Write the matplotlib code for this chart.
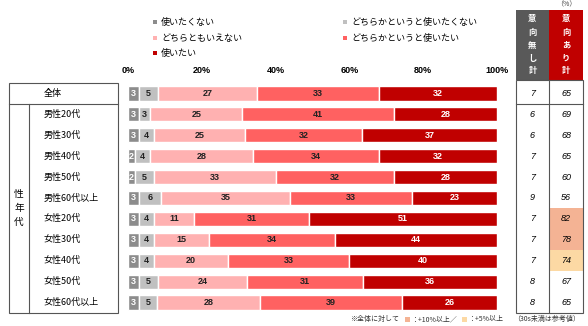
import numpy as np
import matplotlib
matplotlib.use("Agg")
import matplotlib.pyplot as plt
from matplotlib.patches import Rectangle

plt.rcParams['font.family'] = ['Noto Sans CJK JP', 'DejaVu Sans']

# data
categories = ["全体", "男性20代", "男性30代", "男性40代", "男性50代", "男性60代以上",
              "女性20代", "女性30代", "女性40代", "女性50代", "女性60代以上"]
series_names = ["使いたくない", "どちらかというと使いたくない", "どちらともいえない",
                "どちらかというと使いたい", "使いたい"]
not_want = [3, 3, 3, 2, 2, 3, 3, 3, 3, 3, 3]
rather_not = [5, 3, 4, 4, 5, 6, 4, 4, 4, 5, 5]
neutral = [27, 25, 25, 28, 33, 35, 11, 15, 20, 24, 28]
rather_want = [33, 41, 32, 34, 32, 33, 31, 34, 33, 31, 39]
want = [32, 28, 37, 32, 28, 23, 51, 44, 40, 36, 26]
no_total = [7, 6, 6, 7, 7, 9, 7, 7, 7, 8, 8]
yes_total = [65, 69, 68, 65, 60, 56, 82, 78, 74, 67, 65]
highlight = ["", "", "", "", "", "", "+10", "+10", "+5", "", ""]

colors = ["#8c8c8c", "#c0c0c0", "#ffb1b1", "#ff6161", "#c00000"]
text_colors = ["white", "#222222", "#222222", "#222222", "white"]
hl_colors = {"+10": "#f4b394", "+5": "#fcd9a4"}

W, H = 588, 326
fig = plt.figure(figsize=(W / 100, H / 100), dpi=100)

def px_rect(x0, y0, x1, y1):
    return [x0 / W, 1 - y1 / H, (x1 - x0) / W, (y1 - y0) / H]

# bar axes
ax = fig.add_axes(px_rect(128, 83, 497, 313))
data = np.array([not_want, rather_not, neutral, rather_want, want], dtype=float)
widths = data / data.sum(axis=0) * 100
y = np.arange(len(categories))
left = np.zeros(len(categories))
for k in range(5):
    ax.barh(y, widths[k], left=left, height=0.68, color=colors[k],
            edgecolor="white", linewidth=1.0)
    for i in range(len(categories)):
        ax.text(left[i] + widths[k][i] / 2, y[i], str(int(data[k][i])),
                ha="center", va="center", fontsize=6.5, fontweight="bold",
                color=text_colors[k], family=["Liberation Sans", "DejaVu Sans"])
    left += widths[k]
ax.set_xlim(0, 100)
ax.set_ylim(len(categories) - 0.5, -0.5)
ax.xaxis.tick_top()
ax.set_xticks([0, 20, 40, 60, 80, 100])
ax.set_xticklabels(["0%", "20%", "40%", "60%", "80%", "100%"], fontsize=6.5,
                   fontweight="bold", family=["Liberation Sans", "DejaVu Sans"])
ax.tick_params(length=0, pad=6)
ax.set_yticks([])
for s in ax.spines.values():
    s.set_visible(False)

# overlay in pixel coordinates for table and legend
ov = fig.add_axes([0, 0, 1, 1])
ov.set_xlim(0, W)
ov.set_ylim(H, 0)
ov.axis("off")
ov.set_zorder(-1)

row_h = (313 - 83) / len(categories)
row_c = [83 + row_h * (i + 0.5) for i in range(len(categories))]
lw = 0.8
lc = "#555555"

# left label table
ov.add_patch(Rectangle((9, 83), 109, 230, fill=False, edgecolor=lc, linewidth=lw))
ov.plot([9, 118], [83 + row_h, 83 + row_h], color=lc, lw=lw)
ov.plot([29, 29], [83 + row_h, 313], color=lc, lw=lw)
for i, c in enumerate(categories):
    ov.text(44, row_c[i], c, ha="left", va="center", fontsize=6.5)
for j, ch in enumerate("性年代"):
    ov.text(19, 194 + j * 14, ch, ha="center", va="center", fontsize=7)

# right table
ov.add_patch(Rectangle((516, 10), 33, 70, color="#595959", lw=0))
ov.add_patch(Rectangle((549, 10), 34, 70, color="#c00000", lw=0))
for j, ch in enumerate("意向無し計"):
    ov.text(532.5, 19 + j * 13, ch, ha="center", va="center", fontsize=6,
            color="white", fontweight="bold")
for j, ch in enumerate("意向あり計"):
    ov.text(566, 19 + j * 13, ch, ha="center", va="center", fontsize=6,
            color="white", fontweight="bold")
ov.text(566, 4, "（%）", ha="center", va="center", fontsize=5, color="#444444")
for i in range(len(categories)):
    top = 80 if i == 0 else row_c[i] - row_h / 2
    bot = row_c[i] + row_h / 2
    if highlight[i]:
        ov.add_patch(Rectangle((549, top), 34, bot - top,
                               color=hl_colors[highlight[i]], lw=0))
    ov.text(532.5, row_c[i], str(no_total[i]), ha="center", va="center",
            fontsize=6.5, style="italic", family=["Liberation Sans", "DejaVu Sans"])
    ov.text(566, row_c[i], str(yes_total[i]), ha="center", va="center",
            fontsize=6.5, style="italic", family=["Liberation Sans", "DejaVu Sans"])
ov.add_patch(Rectangle((516, 80), 67, 233, fill=False, edgecolor=lc, linewidth=lw))
ov.plot([549, 549], [80, 313], color=lc, lw=lw)
ov.plot([516, 583], [83 + row_h, 83 + row_h], color=lc, lw=lw)

# legend
legend_pos = [(155, 22), (345, 22), (155, 38), (345, 38), (155, 53)]
legend_order = [0, 1, 2, 3, 4]
for k, (lx, ly) in zip(legend_order, legend_pos):
    ov.add_patch(Rectangle((lx - 2, ly - 2), 4, 4, color=colors[k], lw=0))
    ov.text(lx + 6, ly, series_names[k], ha="left", va="center", fontsize=6.5)

# footnote
fy = 319
ov.text(350, fy, "※全体に対して", ha="left", va="center", fontsize=5, color="#333333")
ov.add_patch(Rectangle((405, fy - 2.5), 5, 5, color=hl_colors["+10"], lw=0))
ov.text(411, fy, "：+10%以上／", ha="left", va="center", fontsize=5, color="#333333")
ov.add_patch(Rectangle((462, fy - 2.5), 5, 5, color=hl_colors["+5"], lw=0))
ov.text(468, fy, "：+5%以上", ha="left", va="center", fontsize=5, color="#333333")
ov.text(580, fy, "（30s未満は参考値）", ha="right", va="center", fontsize=5, color="#333333")

fig.savefig("out.png", dpi=100)
